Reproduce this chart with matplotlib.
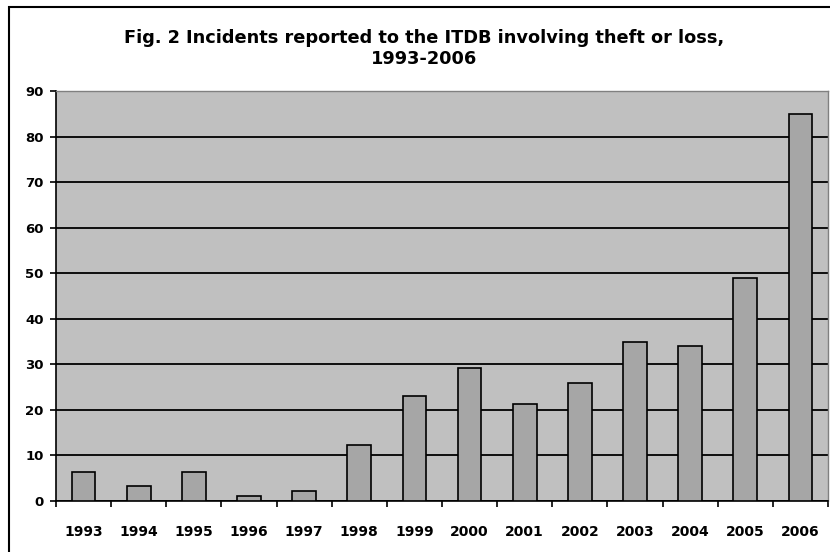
import matplotlib.pyplot as plt
from matplotlib.patches import Rectangle

years = ["1993", "1994", "1995", "1996", "1997", "1998", "1999",
         "2000", "2001", "2002", "2003", "2004", "2005", "2006"]
incidents = [6.3, 3.2, 6.3, 1, 2.3, 12.2, 23.1, 29.1, 21.4, 25.9, 34.9, 34, 48.9, 84.9]
yticks = [0, 10, 20, 30, 40, 50, 60, 70, 80, 90]

plt.rcParams['font.family'] = ['DejaVu Sans']

fig = plt.figure(figsize=(8.3, 5.52), dpi=100)
ax = fig.add_axes([56 / 830, 1 - 501 / 552, (828 - 56) / 830, (501 - 91) / 552])

ax.set_facecolor("#c0c0c0")
x = range(len(years))
ax.bar(x, incidents, width=0.43, color="#a6a6a6", edgecolor="black", linewidth=1.2, zorder=3)

ax.set_xlim(-0.5, len(years) - 0.5)
ax.set_ylim(0, 90)
ax.set_yticks(yticks)
ax.set_yticklabels([str(v) for v in yticks], fontsize=9.5, fontweight="bold")
ax.yaxis.grid(True, color="black", linewidth=1.3, zorder=1)
ax.set_axisbelow(True)

ax.set_xticks([i - 0.5 for i in range(len(years) + 1)], minor=False)
ax.set_xticklabels([])
ax.set_xticks(list(x), minor=True)
ax.set_xticklabels(years, minor=True, fontsize=10, fontweight="bold")
ax.tick_params(axis="x", which="major", length=4, width=1.2, direction="out")
ax.tick_params(axis="x", which="minor", length=0, pad=17)
ax.tick_params(axis="y", length=4, width=1.2, pad=5)

for side in ["top", "right"]:
    ax.spines[side].set_linewidth(1.0)
    ax.spines[side].set_color("#808080")
ax.spines["left"].set_linewidth(1.2)
ax.spines["bottom"].set_linewidth(1.2)

fig.text(0.511, 1 - 38 / 552, "Fig. 2 Incidents reported to the ITDB involving theft or loss,",
         ha="center", va="center", fontsize=12.8, fontweight="bold")
fig.text(0.511, 1 - 59 / 552, "1993-2006",
         ha="center", va="center", fontsize=12.8, fontweight="bold")

fig.patches.append(Rectangle((9 / 830, -0.01), 1, 1 - 7 / 552 + 0.01, transform=fig.transFigure,
                             fill=False, edgecolor="black", linewidth=1.5))

fig.savefig("out.png", dpi=100)
